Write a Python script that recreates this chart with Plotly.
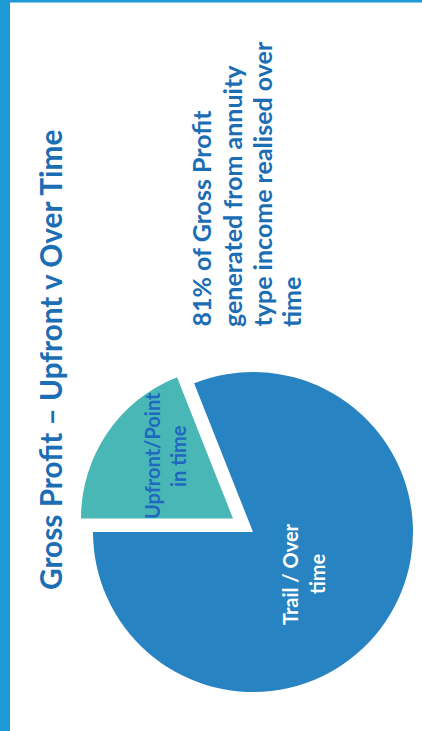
import plotly.graph_objects as go

# Gross profit split
labels = ["Upfront/Point in time", "Trail / Over time"]
values = [19, 81]

title_text = "Gross Profit \u2013 Upfront v Over Time"
note_lines = ["81% of Gross Profit", "generated from annuity",
              "type income realised over", "time"]
upfront_lines = ["Upfront/Point", "in time"]
trail_lines = ["Trail / Over", "time"]

W, H = 422, 731
BLUE_TEXT = "#1b6db4"
TRAIL = "#2783c1"
UPFRONT = "#49b7b5"
CLEAR = "rgba(0,0,0,0)"
FONT = "Lato"


def px_x(v):
    return v / W


def px_y(v):
    return 1 - v / H


def pie_domain(cx, cy, r):
    return dict(x=[px_x(cx - r), px_x(cx + r)], y=[px_y(cy + r), px_y(cy - r)])


# counterclockwise: the first slice ends at the rotation angle
common = dict(labels=labels, values=values, sort=False, direction="counterclockwise",
              rotation=-90, textinfo="none", hoverinfo="label+percent",
              showlegend=False, marker_line_width=0)

fig = go.Figure()
# main (trail) slice
fig.add_trace(go.Pie(**common, marker_colors=[CLEAR, TRAIL],
                     domain=pie_domain(253, 532, 160)))
# exploded upfront slice
fig.add_trace(go.Pie(**common, marker_colors=[UPFRONT, CLEAR],
                     domain=pie_domain(233, 518.5, 152)))

ann = []
# vertical title
ann.append(dict(text=f"<b>{title_text}</b>", x=px_x(50), y=px_y(360), textangle=-90,
                font=dict(family=FONT, size=29.8, color=BLUE_TEXT),
                xanchor="center", yanchor="middle", showarrow=False))
# side note, lines aligned at the bottom
for line, xc in zip(note_lines, [201, 232, 262, 291]):
    ann.append(dict(text=f"<b>{line}</b>", x=px_x(xc), y=px_y(329), textangle=-90,
                    font=dict(family=FONT, size=25, color=BLUE_TEXT),
                    xanchor="center", yanchor="bottom", showarrow=False))
# slice labels
for line, xc in zip(upfront_lines, [152, 178]):
    ann.append(dict(text=f"<b>{line}</b>", x=px_x(xc), y=px_y(456), textangle=-90,
                    font=dict(family=FONT, size=20, color="#1f68c0"),
                    xanchor="center", yanchor="middle", showarrow=False))
for line, xc in zip(trail_lines, [290, 317]):
    ann.append(dict(text=f"<b>{line}</b>", x=px_x(xc), y=px_y(574), textangle=-90,
                    font=dict(family=FONT, size=20, color="white"),
                    xanchor="center", yanchor="middle", showarrow=False))

shapes = [
    dict(type="rect", xref="paper", yref="paper", x0=0, x1=px_x(10), y0=0, y1=1,
         fillcolor="#1c9ad6", line_width=0, layer="below"),
    dict(type="rect", xref="paper", yref="paper", x0=0, x1=1, y0=px_y(2.5), y1=1,
         fillcolor="#1c9ad6", line_width=0, layer="below"),
]

fig.update_layout(width=W, height=H, margin=dict(l=0, r=0, t=0, b=0),
                  paper_bgcolor="white", plot_bgcolor="white",
                  annotations=ann, shapes=shapes)

fig.write_html("out.html", config={"displayModeBar": False})
